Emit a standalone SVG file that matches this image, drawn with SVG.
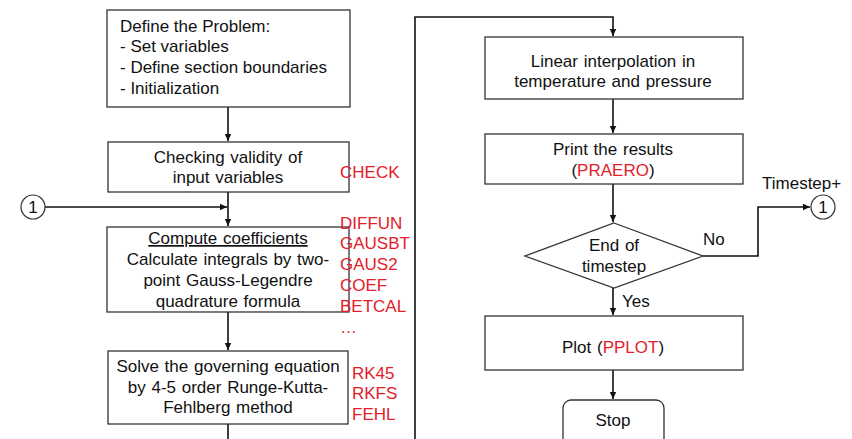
<svg xmlns="http://www.w3.org/2000/svg" width="852" height="439" viewBox="0 0 852 439">
<defs>
<marker id="ah" markerWidth="8" markerHeight="8" refX="7" refY="4" orient="auto" markerUnits="userSpaceOnUse">
<path d="M0,0.8 L7,4 L0,7.2 Z" fill="#111"/>
</marker>
<style>
.box{fill:#fff;stroke:#333;stroke-width:1.3}
.t{font-family:"Liberation Sans",Arial,sans-serif;font-size:17px;fill:#111;word-spacing:1px}
.c{text-anchor:middle}
.r{fill:#e3202a}
.ln{fill:none;stroke:#111;stroke-width:1.6}
</style>
</defs>
<rect width="852" height="439" fill="#fff"/>
<g id="connectors">
<path class="ln" d="M228,107 V141" marker-end="url(#ah)"/>
<path class="ln" d="M228,192 V226" marker-end="url(#ah)"/>
<path class="ln" d="M45,207 H227" marker-end="url(#ah)"/>
<path class="ln" d="M228,312 V350" marker-end="url(#ah)"/>
<path class="ln" d="M228,424 V439"/>
<path class="ln" d="M415,439 V17 H613 V36" marker-end="url(#ah)"/>
<path class="ln" d="M613,99 V133" marker-end="url(#ah)"/>
<path class="ln" d="M613,184 V222" marker-end="url(#ah)"/>
<path class="ln" d="M613,288 V315" marker-end="url(#ah)"/>
<path class="ln" d="M613,370 V399" marker-end="url(#ah)"/>
<path class="ln" d="M703,256 H758 V207 H810" marker-end="url(#ah)"/>
</g>
<g id="n1">
<rect class="box" x="107" y="10" width="243" height="97"/>
<text class="t" x="120" y="32" style="word-spacing:0">Define the Problem:</text>
<text class="t" x="120" y="52" style="word-spacing:0">- Set variables</text>
<text class="t" x="120" y="73" style="word-spacing:0">- Define section boundaries</text>
<text class="t" x="120" y="94" style="word-spacing:0">- Initialization</text>
</g>
<g id="n2">
<rect class="box" x="108" y="142" width="241" height="50"/>
<text class="t c" x="228" y="163">Checking validity of</text>
<text class="t c" x="228" y="183">input variables</text>
</g>
<g id="lbl-check"><text class="t r" x="340" y="178">CHECK</text></g>
<g id="c1">
<circle cx="33" cy="207" r="12" fill="#fff" stroke="#333" stroke-width="1.2"/>
<text class="t c" x="33" y="213">1</text>
</g>
<g id="n3">
<rect class="box" x="107" y="227" width="242" height="85"/>
<text class="t c" x="228" y="244" text-decoration="underline">Compute coefficients</text>
<text class="t c" x="228" y="265">Calculate integrals by two-</text>
<text class="t c" x="228" y="286">point Gauss-Legendre</text>
<text class="t c" x="228" y="307">quadrature formula</text>
</g>
<g id="lbl-coef">
<text class="t r" x="340" y="229">DIFFUN</text>
<text class="t r" x="340" y="249">GAUSBT</text>
<text class="t r" x="340" y="270">GAUS2</text>
<text class="t r" x="340" y="291">COEF</text>
<text class="t r" x="340" y="312">BETCAL</text>
<text class="t r" x="340" y="333">…</text>
</g>
<g id="n4">
<rect class="box" x="108" y="351" width="240" height="73"/>
<text class="t c" x="228" y="372">Solve the governing equation</text>
<text class="t c" x="228" y="393">by 4-5 order Runge-Kutta-</text>
<text class="t c" x="228" y="413">Fehlberg method</text>
</g>
<g id="lbl-rk">
<text class="t r" x="352" y="379">RK45</text>
<text class="t r" x="352" y="399">RKFS</text>
<text class="t r" x="352" y="420">FEHL</text>
</g>
<g id="n5">
<rect class="box" x="485" y="37" width="258" height="62"/>
<text class="t c" x="613" y="67">Linear interpolation in</text>
<text class="t c" x="613" y="87">temperature and pressure</text>
</g>
<g id="n6">
<rect class="box" x="485" y="134" width="258" height="50"/>
<text class="t c" x="613" y="155">Print the results</text>
<text class="t c" x="613" y="176">(<tspan class="r">PRAERO</tspan>)</text>
</g>
<g id="n7">
<polygon class="box" points="614,223 703,256 614,288 525,256"/>
<text class="t c" x="614" y="251">End of</text>
<text class="t c" x="614" y="272">timestep</text>
</g>
<g id="lbl-no"><text class="t" x="703" y="245">No</text></g>
<g id="lbl-yes"><text class="t" x="622" y="307">Yes</text></g>
<g id="lbl-ts"><text class="t" x="762" y="189">Timestep+</text></g>
<g id="c2">
<circle cx="823" cy="207" r="12" fill="#fff" stroke="#333" stroke-width="1.2"/>
<text class="t c" x="823" y="213">1</text>
</g>
<g id="n8">
<rect class="box" x="485" y="316" width="258" height="54"/>
<text class="t c" x="613" y="353">Plot (<tspan class="r">PPLOT</tspan>)</text>
</g>
<g id="n9">
<rect class="box" x="563" y="400" width="101" height="46" rx="8"/>
<text class="t c" x="613" y="426">Stop</text>
</g>
</svg>
